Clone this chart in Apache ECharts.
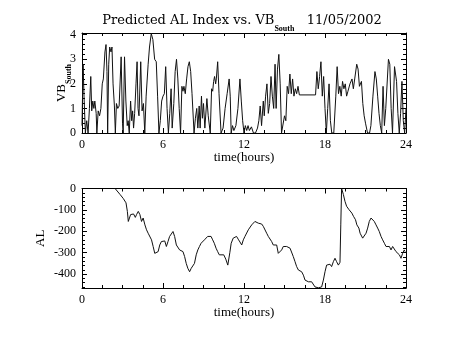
<!DOCTYPE html>
<html>
<head>
<meta charset="utf-8">
<script src="https://cdn.jsdelivr.net/npm/echarts@6/dist/echarts.min.js"></script>
<style>html,body{margin:0;padding:0;background:#fff;}#c{width:453px;height:340px;}</style>
</head>
<body>
<div id="c"></div>
<script>
// ---- data ----
const vbTime = [0.0,0.08,0.15,0.25,0.35,0.45,0.55,0.65,0.72,0.8,0.88,0.95,1.05,1.1,1.2,1.3,1.4,1.5,1.58,1.7,1.78,1.85,1.9,1.98,2.05,2.15,2.22,2.3,2.4,2.47,2.55,2.65,2.75,2.9,3.0,3.05,3.15,3.25,3.35,3.42,3.5,3.6,3.68,3.75,3.82,3.9,4.0,4.08,4.15,4.22,4.35,4.45,4.55,4.65,4.75,4.9,5.0,5.13,5.25,5.38,5.5,5.6,5.7,5.8,5.9,6.0,6.1,6.2,6.3,6.4,6.5,6.6,6.68,6.8,6.9,7.0,7.1,7.2,7.3,7.4,7.48,7.55,7.65,7.75,7.85,7.95,8.05,8.15,8.3,8.4,8.5,8.58,8.68,8.75,8.85,8.92,9.0,9.1,9.25,9.35,9.5,9.6,9.68,9.75,9.82,9.9,9.95,10.05,10.15,10.3,10.45,10.6,10.75,10.9,10.98,11.05,11.15,11.25,11.4,11.55,11.7,11.8,11.9,12.0,12.1,12.2,12.3,12.4,12.55,12.7,12.85,13.0,13.1,13.2,13.3,13.43,13.5,13.6,13.7,13.8,13.9,14.0,14.1,14.2,14.3,14.38,14.48,14.58,14.68,14.78,14.9,15.0,15.1,15.2,15.3,15.4,15.5,15.6,15.7,15.8,15.9,16.0,16.1,17.3,17.4,17.5,17.6,17.7,17.8,17.9,18.0,18.1,18.2,18.3,18.4,18.5,18.65,18.8,18.9,19.0,19.1,19.2,19.3,19.4,19.5,19.6,19.7,19.85,20.0,20.1,20.2,20.35,20.45,20.55,20.7,20.8,20.9,21.0,21.15,21.3,21.4,21.55,21.7,21.8,21.9,22.0,22.1,22.2,22.3,22.4,22.5,22.7,22.8,22.9,23.0,23.15,23.3,23.4,23.5,23.6,23.7,23.8,23.9,24.0];
const vbValue = [0.3,2.8,1.5,0,0.5,0,1.0,2.3,0.9,1.3,1.0,1.3,0.8,0,0.9,0.7,1.0,2.0,2.2,3.3,3.6,2.5,0,2.8,3.5,3.3,3.5,2.0,1.1,0,1.2,1.0,1.1,3.1,0.4,0,3.1,1.3,0.3,0.5,0,1.3,0.5,0.9,0.2,0.8,2.0,2.9,1.0,0.7,2.9,0.9,1.2,0,1.5,2.8,3.5,4.05,3.8,3.0,2.9,1.5,0,0.5,1.3,1.5,1.6,2.7,1.0,0,0.8,1.8,0.2,1.2,2.5,3.0,2.2,1.0,0,1.9,1.7,1.9,1.6,2.2,2.7,2.9,2.5,1.6,0,0.6,1.0,0.2,1.1,0.2,1.5,0.6,1.2,0.2,1.4,0.7,0,1.8,1.7,2.1,2.3,2.0,2.2,2.9,1.6,0,0.2,1.0,1.6,2.2,1.5,0,0.3,0.1,0.3,1.0,2.2,1.3,0.5,0,0.3,0.1,0.3,0.1,0.25,0,0,0.2,0.5,1.1,0.3,1.3,0.7,1.5,2.0,0.8,1.2,2.3,1.5,1.0,2.8,1.0,2.6,3.2,2.0,0,0,0.7,0.5,1.9,1.6,2.4,1.6,2.2,1.5,1.8,1.6,1.9,1.55,1.55,2.5,1.8,2.3,2.9,1.5,2.3,1.0,0,1.0,2.0,0.5,0,0,1.5,2.7,1.6,1.9,1.5,2.1,1.8,2.0,1.5,1.7,2.0,2.2,1.8,2.2,2.8,2.6,1.9,2.1,1.2,0.7,0.4,0,0,0.3,1.5,2.5,2.2,1.5,0.8,0.3,0,1.9,0.3,1.0,3.0,2.8,1.0,0,2.7,2.1,0.8,0,0.8,2.1,0.5,0,1.0];

const alTime = [2.45,2.57,2.82,3.06,3.26,3.36,3.43,3.50,3.60,3.73,3.82,3.95,4.04,4.17,4.29,4.41,4.53,4.66,4.78,4.90,5.02,5.15,5.27,5.39,5.51,5.64,5.76,5.88,6.00,6.13,6.25,6.37,6.49,6.62,6.74,6.86,6.99,7.11,7.23,7.35,7.48,7.60,7.72,7.84,7.97,8.09,8.21,8.33,8.46,8.58,8.70,8.82,8.95,9.07,9.19,9.31,9.44,9.56,9.68,9.80,9.93,10.05,10.17,10.3,10.5,10.65,10.8,10.95,11.05,11.2,11.45,11.6,11.7,11.83,11.95,12.07,12.2,12.32,12.44,12.57,12.69,12.81,12.94,13.06,13.19,13.31,13.43,13.56,13.68,13.8,13.93,14.05,14.17,14.3,14.42,14.54,14.67,14.79,14.91,15.04,15.16,15.28,15.41,15.53,15.65,15.78,15.9,16.03,16.15,16.27,16.4,16.52,16.64,16.77,16.89,17.01,17.14,17.26,17.38,17.51,17.63,17.75,17.88,18.0,18.12,18.24,18.37,18.49,18.62,18.74,18.86,18.99,19.11,19.17,19.23,19.36,19.48,19.6,19.68,19.78,19.88,19.99,20.11,20.26,20.36,20.51,20.6,20.79,20.91,21.04,21.16,21.28,21.41,21.53,21.65,21.78,21.9,22.02,22.15,22.27,22.4,22.52,22.64,22.77,22.89,23.01,23.14,23.26,23.38,23.51,23.63,23.75,23.87,23.93];
const alValue = [0,-5,-28,-47,-67,-107,-154,-158,-122,-130,-119,-135,-122,-107,-122,-154,-138,-170,-193,-209,-216,-240,-271,-303,-310,-295,-264,-248,-256,-245,-271,-248,-224,-216,-201,-224,-264,-271,-287,-279,-295,-318,-350,-373,-389,-373,-365,-350,-310,-287,-271,-256,-248,-240,-232,-224,-232,-224,-240,-256,-279,-295,-310,-303,-310,-330,-358,-300,-256,-232,-224,-240,-250,-264,-240,-224,-216,-193,-185,-170,-162,-154,-154,-162,-154,-166,-177,-185,-209,-224,-232,-248,-264,-256,-264,-303,-310,-287,-271,-279,-271,-271,-279,-287,-318,-342,-365,-381,-373,-389,-405,-428,-436,-436,-444,-436,-444,-460,-452,-464,-464,-460,-428,-389,-358,-365,-354,-365,-342,-326,-342,-358,-345,-170,0,-28,-60,-83,-75,-99,-91,-115,-130,-146,-170,-185,-209,-232,-224,-209,-185,-154,-138,-146,-154,-170,-185,-201,-224,-240,-256,-271,-264,-271,-287,-271,-279,-295,-287,-310,-326,-303,-287,-295];

const xTicks = [0, 6, 12, 18, 24];
const vbTicks = [0, 1, 2, 3, 4];
const alTicks = [-400, -300, -200, -100, 0];

// ---- chart ----
const FONT = 'Liberation Serif';
const TFONT = 'DejaVu Serif';
const black = '#000';
const lineSt = { color: black, width: 1 };

function xAx(grid, pos, withLabels) {
  return {
    type: 'value', gridIndex: grid, position: pos,
    min: xTicks[0], max: xTicks[xTicks.length - 1], interval: xTicks[1] - xTicks[0],
    axisLine: { show: true, onZero: false, lineStyle: lineSt },
    axisTick: { show: true, inside: true, length: 5, lineStyle: lineSt },
    minorTick: { show: true, splitNumber: 4, length: 3, lineStyle: lineSt },
    splitLine: { show: false },
    axisLabel: { show: withLabels, color: black, fontFamily: FONT, fontSize: 12, margin: 6,
      formatter: v => xTicks.indexOf(v) >= 0 ? String(v) : '' },
    name: withLabels ? 'time(hours)' : '',
    nameLocation: 'middle', nameGap: 18, nameMoveOverlap: false,
    nameTextStyle: { color: black, fontFamily: FONT, fontSize: 13 }
  };
}

function yAx(grid, pos, withLabels, min, max, ticks, minorSplit, name, nameGap, rich) {
  const o = {
    type: 'value', gridIndex: grid, position: pos, min: min, max: max,
    axisLine: { show: true, onZero: false, lineStyle: lineSt },
    axisTick: { show: true, inside: true, length: 5, lineStyle: lineSt },
    minorTick: { show: true, splitNumber: minorSplit, length: 3, lineStyle: lineSt },
    splitLine: { show: false },
    axisLabel: { show: withLabels, color: black, fontFamily: FONT, fontSize: 12, margin: 6,
      formatter: v => ticks.indexOf(v) >= 0 ? String(v) : '' },
    name: withLabels ? name : '',
    nameLocation: 'middle', nameGap: nameGap, nameMoveOverlap: false,
    nameTextStyle: { color: black, fontFamily: FONT, fontSize: 13, rich: rich }
  };
  if (min === 0) o.interval = ticks[1] - ticks[0];
  else o.splitNumber = 5;
  return o;
}

const subRich = {
  a: { fontFamily: FONT, fontSize: 13, lineHeight: 16, color: black, verticalAlign: 'bottom', padding: [0, 0, 5, 0] },
  s: { fontFamily: FONT, fontSize: 8, lineHeight: 10, color: black, fontWeight: 'bold', verticalAlign: 'bottom' }
};

const chart = echarts.init(document.getElementById('c'), null, { renderer: 'canvas' });
chart.setOption({
  backgroundColor: '#fff',
  animation: false,
  title: {
    text: '{a|Predicted AL Index vs. VB}{s|South}{a|   11/05/2002}',
    left: 237, top: 12, textAlign: 'center',
    textStyle: {
      fontWeight: 'normal',
      rich: {
        a: { fontFamily: TFONT, fontSize: 13, lineHeight: 16, color: black, fontWeight: 'normal', verticalAlign: 'bottom', padding: [0, 0, 6, 0] },
        s: { fontFamily: FONT, fontSize: 8, lineHeight: 10, color: black, fontWeight: 'bold', verticalAlign: 'bottom' }
      }
    }
  },
  grid: [
    { left: 82, right: 47, top: 33, height: 100 },
    { left: 82, right: 47, top: 188.5, height: 99.5 }
  ],
  xAxis: [
    xAx(0, 'bottom', true), xAx(0, 'top', false),
    xAx(1, 'bottom', true), xAx(1, 'top', false)
  ],
  yAxis: [
    yAx(0, 'left', true, 0, 4.07, vbTicks, 5, '{a|VB}{s|South}', 9, subRich),
    yAx(0, 'right', false, 0, 4.07, vbTicks, 5, '', 10, subRich),
    yAx(1, 'left', true, -465, 0, alTicks, 5, 'AL', 35, subRich),
    yAx(1, 'right', false, -465, 0, alTicks, 5, '', 10, subRich)
  ],
  series: [
    { type: 'line', xAxisIndex: 0, yAxisIndex: 0, showSymbol: false, symbol: 'none',
      lineStyle: { color: '#111', width: 1 },
      data: vbTime.map((t, i) => [t, vbValue[i]]) },
    { type: 'line', xAxisIndex: 2, yAxisIndex: 2, showSymbol: false, symbol: 'none',
      lineStyle: { color: '#111', width: 1 },
      data: alTime.map((t, i) => [t, alValue[i]]) }
  ]
});
</script>
</body>
</html>
